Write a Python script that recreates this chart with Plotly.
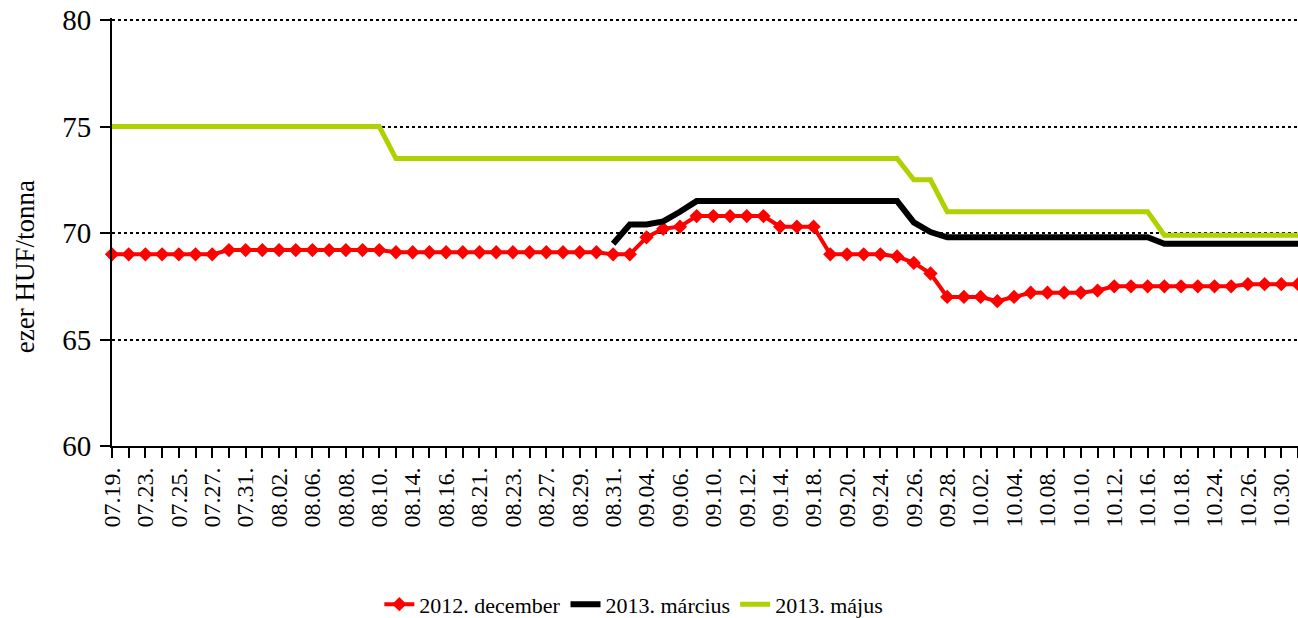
import plotly.graph_objects as go

dates = ["07.19.", "07.20.", "07.23.", "07.24.", "07.25.", "07.26.", "07.27.", "07.30.", "07.31.",
         "08.01.", "08.02.", "08.03.", "08.06.", "08.07.", "08.08.", "08.09.", "08.10.", "08.13.",
         "08.14.", "08.15.", "08.16.", "08.17.", "08.21.", "08.22.", "08.23.", "08.24.", "08.27.",
         "08.28.", "08.29.", "08.30.", "08.31.", "09.03.", "09.04.", "09.05.", "09.06.", "09.07.",
         "09.10.", "09.11.", "09.12.", "09.13.", "09.14.", "09.17.", "09.18.", "09.19.", "09.20.",
         "09.21.", "09.24.", "09.25.", "09.26.", "09.27.", "09.28.", "10.01.", "10.02.", "10.03.",
         "10.04.", "10.05.", "10.08.", "10.09.", "10.10.", "10.11.", "10.12.", "10.15.", "10.16.",
         "10.17.", "10.18.", "10.19.", "10.24.", "10.25.", "10.26.", "10.29.", "10.30.", "10.31."]

dec_2012 = [69.0, 69.0, 69.0, 69.0, 69.0, 69.0, 69.0, 69.2, 69.2, 69.2,
            69.2, 69.2, 69.2, 69.2, 69.2, 69.2, 69.2, 69.1, 69.1, 69.1,
            69.1, 69.1, 69.1, 69.1, 69.1, 69.1, 69.1, 69.1, 69.1, 69.1,
            69.0, 69.0, 69.8, 70.2, 70.3, 70.8, 70.8, 70.8, 70.8, 70.8,
            70.3, 70.3, 70.3, 69.0, 69.0, 69.0, 69.0, 68.9, 68.6, 68.1,
            67.0, 67.0, 67.0, 66.8, 67.0, 67.2, 67.2, 67.2, 67.2, 67.3,
            67.5, 67.5, 67.5, 67.5, 67.5, 67.5, 67.5, 67.5, 67.6, 67.6,
            67.6, 67.6]

mar_2013 = [None] * 30 + [69.5, 70.4, 70.4, 70.55, 71.0, 71.5, 71.5, 71.5, 71.5, 71.5,
                          71.5, 71.5, 71.5, 71.5, 71.5, 71.5, 71.5, 71.5, 70.5, 70.05,
                          69.8, 69.8, 69.8, 69.8, 69.8, 69.8, 69.8, 69.8, 69.8, 69.8,
                          69.8, 69.8, 69.8, 69.5, 69.5, 69.5, 69.5, 69.5, 69.5, 69.5,
                          69.5, 69.5]

may_2013 = [75.0] * 17 + [73.5] * 31 + [72.5, 72.5] + [71.0] * 13 + [69.9] * 9

series_names = ["2012. december", "2013. március", "2013. május"]
y_ticks = [60, 65, 70, 75, 80]
y_title = "ezer HUF/tonna"

FONT = "Liberation Serif, Times New Roman, serif"

fig = go.Figure()
fig.add_trace(go.Scatter(
    x=dates, y=dec_2012, name=series_names[0], mode="lines+markers",
    line=dict(color="#FF0000", width=4),
    marker=dict(symbol="diamond", size=11, color="#FF0000"),
    cliponaxis=False))
fig.add_trace(go.Scatter(
    x=dates, y=mar_2013, name=series_names[1], mode="lines",
    line=dict(color="#000000", width=6)))
fig.add_trace(go.Scatter(
    x=dates, y=may_2013, name=series_names[2], mode="lines",
    line=dict(color="#B0D000", width=5)))

ticktext = [d if i % 2 == 0 else "" for i, d in enumerate(dates)]

# the top of the range is padded slightly so the 80 grid line and tick are drawn
fig.update_layout(
    width=1298, height=618,
    margin=dict(l=112, r=0, t=18, b=172, autoexpand=False),
    paper_bgcolor="white", plot_bgcolor="white",
    font=dict(family=FONT, size=24, color="black"),
    showlegend=True,
    legend=dict(orientation="h", x=0.44, xanchor="center", y=-0.370, yanchor="middle",
                font=dict(family=FONT, size=22, color="black"),
                itemwidth=30, tracegroupgap=0),
    xaxis=dict(type="category", range=[0, len(dates) - 1],
               tickmode="array", tickvals=dates, ticktext=ticktext,
               tickangle=-90, ticks="outside", ticklen=10, tickwidth=2, tickcolor="black",
               showline=True, linecolor="black", linewidth=2, showgrid=False,
               zeroline=False, automargin=False, ticklabeloverflow="allow",
               tickfont=dict(family=FONT, size=24, color="black")),
    yaxis=dict(range=[60, 80.1], tickmode="array", tickvals=y_ticks,
               ticks="outside", ticklen=10, tickwidth=2, tickcolor="black",
               showline=True, linecolor="black", linewidth=2,
               showgrid=True, gridcolor="black", gridwidth=2, griddash="3px,3px",
               zeroline=False, automargin=False, ticklabelstandoff=3,
               ticklabeloverflow="allow",
               tickfont=dict(family=FONT, size=29, color="black")),
    annotations=[dict(text=y_title, textangle=-90, xref="paper", yref="paper",
                      x=-0.0734, y=0.42, xanchor="center", yanchor="middle",
                      showarrow=False, font=dict(family=FONT, size=27, color="black"))],
)

# remove the default 8px page margin so the figure sits at the window's corner
fig.write_html("out.html", config={"displayModeBar": False},
               post_script="document.body.style.margin='0';")
